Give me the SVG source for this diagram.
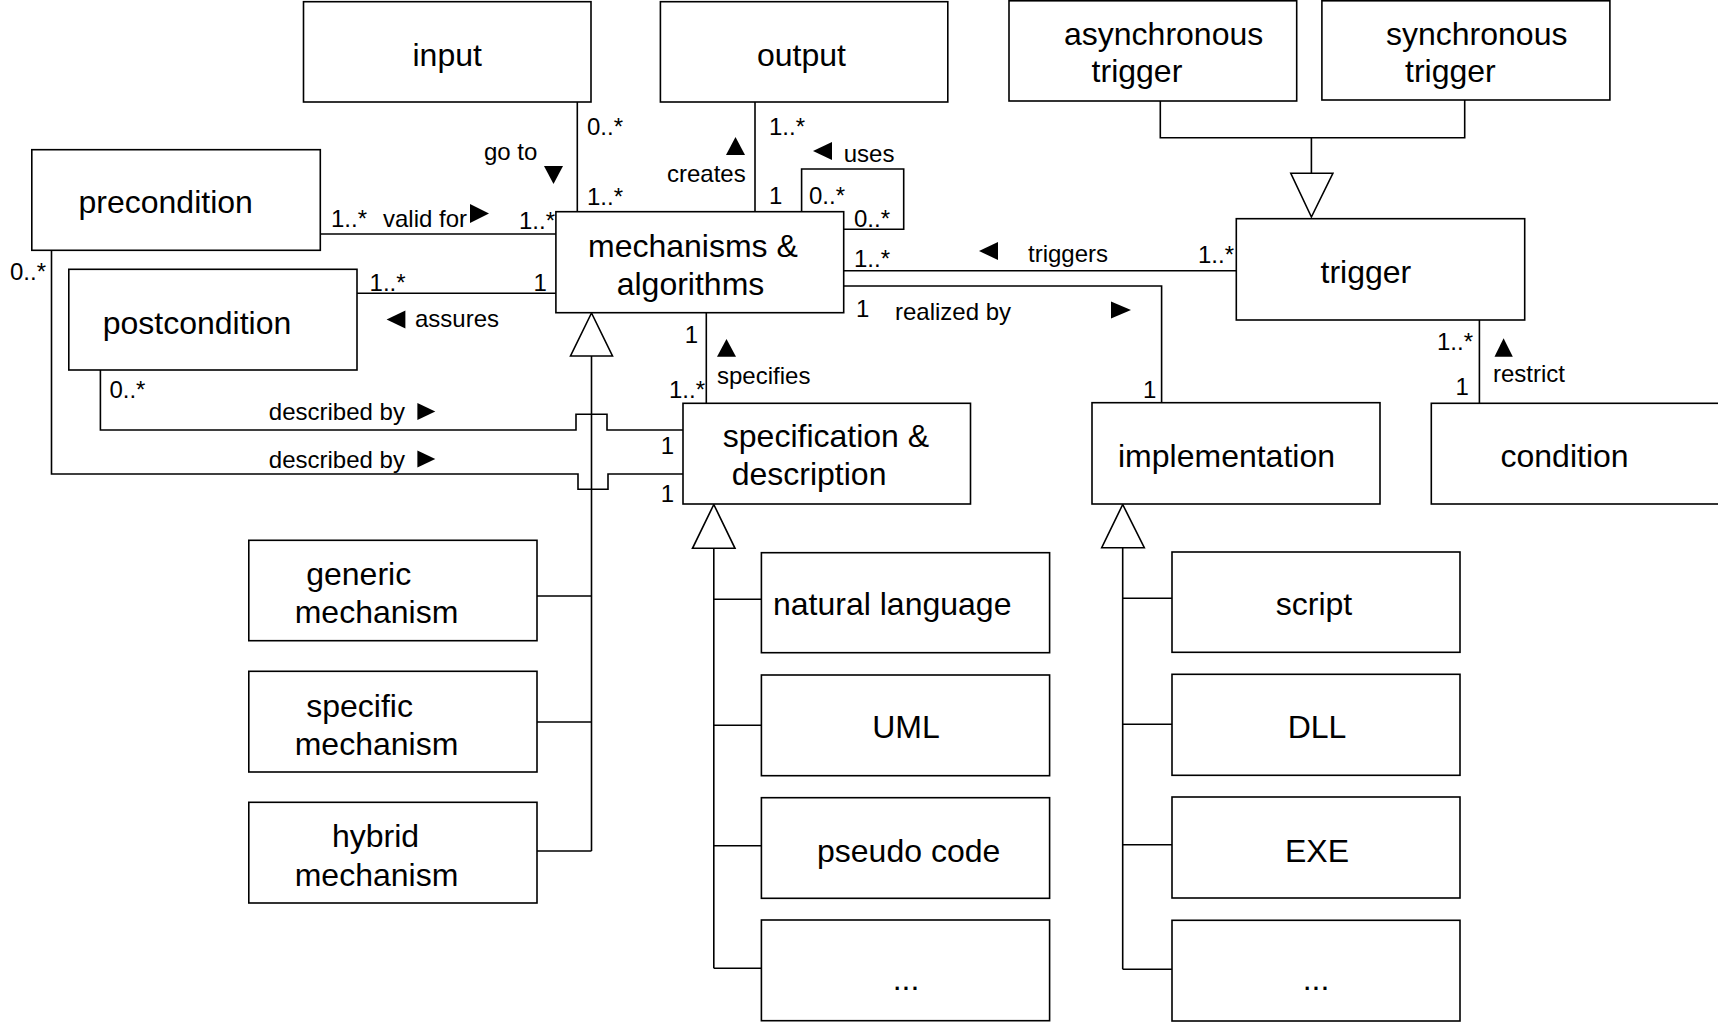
<svg xmlns="http://www.w3.org/2000/svg" width="1718" height="1024" viewBox="0 0 1718 1024">
<style>
.box{fill:#fff;stroke:#000;stroke-width:1.6}
.t{font-family:"Liberation Sans",Arial,sans-serif;font-size:32px;fill:#000}
.c{text-anchor:middle}
.l{font-family:"Liberation Sans",Arial,sans-serif;font-size:24px;fill:#000}
.ln{fill:none;stroke:#000;stroke-width:1.6}
.gen{fill:#fff;stroke:#000;stroke-width:1.6}
.tri{fill:#000}
</style>
<rect width="1718" height="1024" fill="#fff"/>
<g id="connectors">
<path class="ln" d="M577.3 102 V211.7"/>
<path class="ln" d="M755 102 V211.7"/>
<path class="ln" d="M801.6 211.7 V169 H903.7 V229.3 H843.7"/>
<path class="ln" d="M320.3 234 H555.9"/>
<path class="ln" d="M357 293.3 H555.9"/>
<path class="ln" d="M843.7 270.7 H1236.3"/>
<path class="ln" d="M843.7 286 H1161.6 V402.7"/>
<path class="ln" d="M706.3 312.7 V403.3"/>
<path class="ln" d="M1479.4 320 V403.3"/>
<path class="ln" d="M1160.3 101 V137.7 H1464.7 V100 M1311.4 137.7 V173.3"/>
<polygon class="gen" points="1290.8,173.3 1332.9,173.3 1311.4,217"/>
<polygon class="gen" points="591.5,313 570.5,356 612.5,356"/>
<path class="ln" d="M591.5 356 V851 M537 596 H591.5 M537 722 H591.5 M537 851 H591.5"/>
<path class="ln" d="M100.4 370 V430 H576 V414.3 H607 V430 H683"/>
<path class="ln" d="M51.5 250.3 V474 H578 V489.3 H608 V474 H683"/>
<polygon class="gen" points="713.8,504.5 692.5,548.3 735,548.3"/>
<path class="ln" d="M713.8 548.3 V968.3 M713.8 599.3 H761.4 M713.8 725.3 H761.4 M713.8 845.7 H761.4 M713.8 968.3 H761.4"/>
<polygon class="gen" points="1122.7,504.5 1101.7,547.7 1144.3,547.7"/>
<path class="ln" d="M1122.7 547.7 V969.3 M1122.7 598.3 H1172 M1122.7 724.3 H1172 M1122.7 844.7 H1172 M1122.7 969.3 H1172"/>
<polygon class="tri" points="544,166 563,166 553.5,184"/>
<polygon class="tri" points="726,155 745,155 735.5,137"/>
<polygon class="tri" points="832,142 832,160 813,151"/>
<polygon class="tri" points="470,204 470,223 489,213.5"/>
<polygon class="tri" points="405.4,310.5 405.4,328.5 386.6,319.5"/>
<polygon class="tri" points="998,242 998,260 979,251"/>
<polygon class="tri" points="1111,301.5 1111,318.5 1131,310"/>
<polygon class="tri" points="717,356.7 736,356.7 726.5,339"/>
<polygon class="tri" points="417.4,403 417.4,420 435.3,411.5"/>
<polygon class="tri" points="417.4,450.5 417.4,467.5 435.3,459"/>
<polygon class="tri" points="1494.5,356.7 1512.8,356.7 1503.6,338.3"/>
<text class="l" x="484" y="160">go to</text>
<text class="l" x="587" y="135">0..*</text>
<text class="l" x="587" y="205">1..*</text>
<text class="l" x="667" y="181.7">creates</text>
<text class="l" x="769" y="135">1..*</text>
<text class="l" x="769" y="204">1</text>
<text class="l" x="843.7" y="161.7">uses</text>
<text class="l" x="809" y="204">0..*</text>
<text class="l" x="854" y="226.7">0..*</text>
<text class="l" x="331" y="227">1..*</text>
<text class="l" x="383" y="227">valid for</text>
<text class="l" x="519" y="229">1..*</text>
<text class="l" x="10" y="280">0..*</text>
<text class="l" x="369.6" y="291">1..*</text>
<text class="l" x="533.5" y="291">1</text>
<text class="l" x="415" y="327">assures</text>
<text class="l" x="854" y="266.7">1..*</text>
<text class="l" x="1028" y="262">triggers</text>
<text class="l" x="1198" y="263">1..*</text>
<text class="l" x="856" y="316.7">1</text>
<text class="l" x="895" y="320">realized by</text>
<text class="l" x="1143" y="398">1</text>
<text class="l" x="684.8" y="343.3">1</text>
<text class="l" x="717" y="384">specifies</text>
<text class="l" x="669" y="398.3">1..*</text>
<text class="l" x="109.4" y="398.3">0..*</text>
<text class="l" x="268.8" y="420">described by</text>
<text class="l" x="268.8" y="468.3">described by</text>
<text class="l" x="660.7" y="454">1</text>
<text class="l" x="660.7" y="501.7">1</text>
<text class="l" x="1437" y="350">1..*</text>
<text class="l" x="1455.6" y="395">1</text>
<text class="l" x="1493" y="381.7">restrict</text>
</g>
<g id="input"><rect class="box" x="303.5" y="1.7" width="287.5" height="100.3"/><text class="t" x="412.5" y="66">input</text></g>
<g id="output"><rect class="box" x="660.4" y="1.7" width="287.4" height="100.3"/><text class="t" x="757" y="66">output</text></g>
<g id="async-trigger"><rect class="box" x="1009" y="0.8" width="287.7" height="100.2"/><text class="t" x="1064" y="45">asynchronous</text><text class="t" x="1091.6" y="81.7">trigger</text></g>
<g id="sync-trigger"><rect class="box" x="1321.9" y="0.8" width="288" height="99.2"/><text class="t" x="1386" y="45">synchronous</text><text class="t" x="1405" y="81.7">trigger</text></g>
<g id="precondition"><rect class="box" x="31.8" y="149.7" width="288.5" height="100.6"/><text class="t" x="78.5" y="213.3">precondition</text></g>
<g id="postcondition"><rect class="box" x="68.8" y="269.3" width="288.2" height="100.7"/><text class="t" x="102.7" y="334">postcondition</text></g>
<g id="mechanisms"><rect class="box" x="555.9" y="211.7" width="287.8" height="101"/><text class="t" x="588" y="257.3">mechanisms &amp;</text><text class="t" x="616.7" y="295">algorithms</text></g>
<g id="trigger"><rect class="box" x="1236.3" y="218.7" width="288.4" height="101.3"/><text class="t" x="1320.5" y="283.3">trigger</text></g>
<g id="specification"><rect class="box" x="683" y="403.3" width="287.5" height="100.7"/><text class="t" x="722.8" y="446.7">specification &amp;</text><text class="t" x="731.7" y="485">description</text></g>
<g id="implementation"><rect class="box" x="1092" y="402.7" width="288" height="101.3"/><text class="t" x="1118" y="466.7">implementation</text></g>
<g id="condition"><rect class="box" x="1431.3" y="403.3" width="300" height="100.7"/><text class="t" x="1500.5" y="466.7">condition</text></g>
<g id="generic"><rect class="box" x="248.8" y="540.3" width="288.2" height="100.4"/><text class="t" x="306.2" y="585">generic</text><text class="t" x="294.7" y="623.3">mechanism</text></g>
<g id="specific"><rect class="box" x="248.8" y="671.3" width="288.2" height="100.7"/><text class="t" x="306.2" y="716.7">specific</text><text class="t" x="294.7" y="755">mechanism</text></g>
<g id="hybrid"><rect class="box" x="248.8" y="802.3" width="288.2" height="100.7"/><text class="t" x="332" y="847.3">hybrid</text><text class="t" x="294.7" y="885.7">mechanism</text></g>
<g id="natural-language"><rect class="box" x="761.4" y="552.7" width="288.2" height="100"/><text class="t" x="773" y="615">natural language</text></g>
<g id="uml"><rect class="box" x="761.4" y="675" width="288.2" height="100.7"/><text class="t c" x="906" y="738.3">UML</text></g>
<g id="pseudo-code"><rect class="box" x="761.4" y="797.7" width="288.2" height="100.6"/><text class="t" x="817" y="861.7">pseudo code</text></g>
<g id="spec-more"><rect class="box" x="761.4" y="920" width="288.2" height="100.7"/><text class="t c" x="906" y="990">...</text></g>
<g id="script"><rect class="box" x="1172" y="552" width="288" height="100.3"/><text class="t c" x="1314" y="615">script</text></g>
<g id="dll"><rect class="box" x="1172" y="674.3" width="288" height="101"/><text class="t c" x="1317" y="738.3">DLL</text></g>
<g id="exe"><rect class="box" x="1172" y="797" width="288" height="101"/><text class="t c" x="1317" y="861.7">EXE</text></g>
<g id="impl-more"><rect class="box" x="1172" y="920.3" width="288" height="100.7"/><text class="t c" x="1316" y="990">...</text></g>
</svg>
